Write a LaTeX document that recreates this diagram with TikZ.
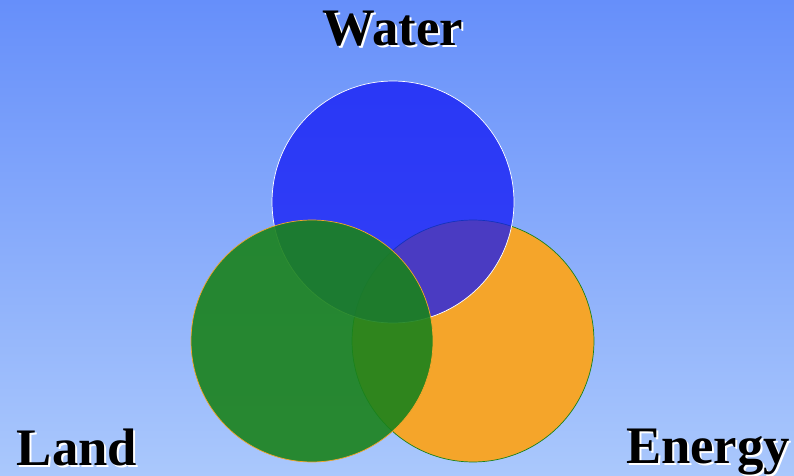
\documentclass[tikz,border=0pt]{standalone}
\usepackage{fontspec}
\setmainfont{Liberation Serif}
\definecolor{skytop}{RGB}{102,143,250}
\definecolor{skybottom}{RGB}{170,200,252}
\definecolor{waterblue}{RGB}{18,24,245}
\definecolor{energyorange}{RGB}{245,165,42}
\definecolor{landgreen}{RGB}{26,130,28}

\begin{document}
\begin{tikzpicture}[
				x=0.02cm, y=-0.02cm,
				circ/.style={circle, minimum size=4.84cm, inner sep=0pt},
				title/.style={font=\fontsize{30}{36}\selectfont\bfseries},
				shadow/.style={title, text=white}
				]
				
				% Background
				\useasboundingbox (0,0) rectangle (794,476);
				\shade[top color=skytop, bottom color=skybottom] (0,0) rectangle (794,476);
				
				% Circles
				\node[circ, fill=energyorange, draw=landgreen, thin] (energy) at (473,341) {};
				\node[circ, fill=waterblue, fill opacity=0.75, draw=white, thin] (water) at (393,202) {};
				\node[circ, fill=landgreen, fill opacity=0.9, draw=energyorange, thin] (land) at (312,341) {};
				
				% Labels with shadow
				\node[shadow] (watershadow) at (395,31) {Water};
				\node[title] (waterlabel) at (393,29) {Water};
				\node[shadow] (landshadow) at (79,449) {Land};
				\node[title] (landlabel) at (77,447) {Land};
				\node[shadow, anchor=base] (energyshadow) at (710,465) {Energy};
				\node[title, anchor=base] (energylabel) at (708,463) {Energy};
				
			\end{tikzpicture}
\end{document}
